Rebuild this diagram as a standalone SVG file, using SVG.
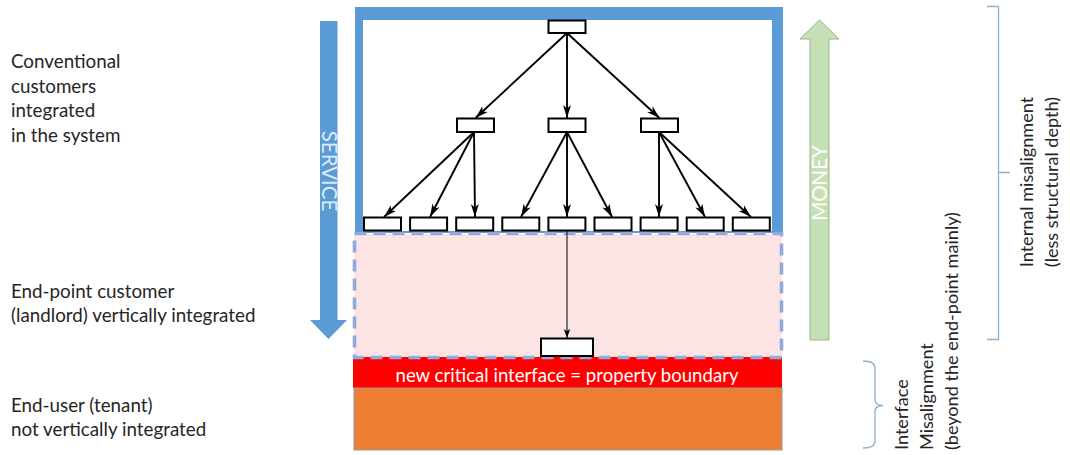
<svg xmlns="http://www.w3.org/2000/svg" width="1070" height="455" viewBox="0 0 1070 455">
  <style>
    .lbl { font-family: Lato, "Noto Sans", sans-serif; font-size: 18.8px; fill: #262626; }
    .side { font-family: Lato, "Noto Sans", sans-serif; font-size: 18.1px; fill: #262626; }
    .box { fill: #ffffff; stroke: #000000; stroke-width: 2; }
    .edge { stroke: #000000; stroke-width: 1.9; fill: none; marker-end: url(#head); }
    .thin { stroke: #000000; stroke-width: 1; fill: none; marker-end: url(#headSmall); }
    .brk { stroke: #8eb0cc; stroke-width: 1.3; fill: none; }
    .vtxt { font-family: Lato, "Noto Sans", sans-serif; font-size: 20.5px; }
  </style>
  <defs>
    <marker id="head" markerUnits="userSpaceOnUse" markerWidth="14" markerHeight="9" refX="13" refY="4.5" orient="auto">
      <path d="M0,0.5 L13,4.5 L0,8.5 L3.5,4.5 Z" fill="#000000"/>
    </marker>
    <marker id="headSmall" markerUnits="userSpaceOnUse" markerWidth="10" markerHeight="8" refX="9" refY="4" orient="auto">
      <path d="M0,0.8 L9,4 L0,7.2 L2.2,4 Z" fill="#000000"/>
    </marker>
  </defs>

  <rect width="1070" height="455" fill="#ffffff"/>

  <!-- left-hand descriptions -->
  <g id="label-conventional" class="lbl">
    <text x="11" y="68">Conventional</text>
    <text x="11" y="93">customers</text>
    <text x="11" y="117">integrated</text>
    <text x="11" y="142">in the system</text>
  </g>
  <g id="label-endpoint" class="lbl">
    <text x="11" y="298">End-point customer</text>
    <text x="11" y="322">(landlord) vertically integrated</text>
  </g>
  <g id="label-enduser" class="lbl">
    <text x="11" y="412">End-user  (tenant)</text>
    <text x="11" y="436">not vertically integrated</text>
  </g>

  <!-- SERVICE flow arrow (downwards) -->
  <g id="service-arrow">
    <polygon points="320,21 337.5,21 337.5,320 347,320 328.5,339 310,320 320,320" fill="#5b9bd5"/>
    <text class="vtxt" x="0" y="0" fill="#deebf7" text-anchor="middle" transform="translate(321.5,171) rotate(90)">SERVICE</text>
  </g>

  <!-- MONEY flow arrow (upwards) -->
  <g id="money-arrow">
    <polygon points="819.5,20 839,39 829,39 829,340 810,340 810,39 800,39" fill="#c5e0b4" stroke="#9cb38a" stroke-width="1"/>
    <text class="vtxt" x="0" y="0" fill="#ffffff" text-anchor="middle" transform="translate(826.5,183) rotate(-90)">MONEY</text>
  </g>

  <!-- system frame -->
  <g id="system-frame">
    <rect x="355" y="7" width="428" height="226" fill="#5b9bd5"/>
    <rect x="363" y="20" width="409" height="211" fill="#ffffff"/>
  </g>

  <!-- end-point customer zone -->
  <g id="endpoint-zone">
    <rect x="354" y="234" width="428" height="124" fill="#fde4e4"/>
  </g>

  <!-- property boundary band -->
  <g id="boundary-band">
    <rect x="353" y="357" width="429" height="31" fill="#ff0000"/>
    <text x="567" y="382" text-anchor="middle" font-family="Lato, 'Noto Sans', sans-serif" font-size="18.6" fill="#ffffff">new critical interface = property boundary</text>
  </g>

  <!-- end-user zone -->
  <g id="enduser-zone">
    <rect x="354" y="388" width="428" height="62" fill="#ed7d31" stroke="#9a9a9a" stroke-width="1"/>
  </g>

  <!-- dashed outline of the end-point zone -->
  <rect id="endpoint-outline" x="354.5" y="233.5" width="427" height="124" fill="none" stroke="#8faadc" stroke-width="3.6" stroke-dasharray="12 7"/>

  <!-- hierarchy connectors -->
  <g id="connectors">
    <line class="edge" x1="567" y1="33" x2="475.5" y2="118"/>
    <line class="edge" x1="567" y1="33" x2="567" y2="118"/>
    <line class="edge" x1="567" y1="33" x2="659.5" y2="118"/>
    <line class="edge" x1="474" y1="132" x2="384" y2="217"/>
    <line class="edge" x1="474" y1="132" x2="430" y2="217"/>
    <line class="edge" x1="474" y1="132" x2="475" y2="217"/>
    <line class="edge" x1="567" y1="132" x2="521" y2="217"/>
    <line class="edge" x1="567" y1="132" x2="567" y2="217"/>
    <line class="edge" x1="567" y1="132" x2="612" y2="217"/>
    <line class="edge" x1="659" y1="132" x2="659" y2="217"/>
    <line class="edge" x1="659" y1="132" x2="705" y2="217"/>
    <line class="edge" x1="659" y1="132" x2="751" y2="217"/>
    <line class="thin" x1="567" y1="231" x2="567" y2="338"/>
  </g>

  <!-- hierarchy nodes -->
  <g id="node-root"><rect class="box" x="548.5" y="20.5" width="37" height="12.5"/></g>
  <g id="node-mid-1"><rect class="box" x="457" y="118.5" width="37" height="13.5"/></g>
  <g id="node-mid-2"><rect class="box" x="548.5" y="118.5" width="37" height="13.5"/></g>
  <g id="node-mid-3"><rect class="box" x="641" y="118.5" width="37" height="13.5"/></g>
  <g id="node-leaf-1"><rect class="box" x="364" y="217.5" width="37" height="13"/></g>
  <g id="node-leaf-2"><rect class="box" x="410.1" y="217.5" width="37" height="13"/></g>
  <g id="node-leaf-3"><rect class="box" x="456.2" y="217.5" width="37" height="13"/></g>
  <g id="node-leaf-4"><rect class="box" x="502.3" y="217.5" width="37" height="13"/></g>
  <g id="node-leaf-5"><rect class="box" x="548.4" y="217.5" width="37" height="13"/></g>
  <g id="node-leaf-6"><rect class="box" x="594.5" y="217.5" width="37" height="13"/></g>
  <g id="node-leaf-7"><rect class="box" x="640.6" y="217.5" width="37" height="13"/></g>
  <g id="node-leaf-8"><rect class="box" x="686.7" y="217.5" width="37" height="13"/></g>
  <g id="node-leaf-9"><rect class="box" x="732.8" y="217.5" width="37" height="13"/></g>
  <g id="node-endpoint"><rect class="box" x="541" y="338.5" width="52" height="17.5"/></g>

  <!-- internal misalignment bracket -->
  <g id="bracket-internal">
    <path class="brk" d="M987,6.5 H998.5 V339.5 H987 M998.5,172.5 H1010"/>
    <g class="side" text-anchor="middle">
      <text transform="translate(1033,182) rotate(-90)">Internal misalignment</text>
      <text transform="translate(1058,182) rotate(-90)">(less structural depth)</text>
    </g>
  </g>

  <!-- interface misalignment brace -->
  <g id="bracket-interface">
    <path class="brk" d="M863,361 Q875,361 875,368 V399 Q875,405.5 883,405.5 Q875,405.5 875,412 V441 Q875,448 863,448"/>
    <g class="side">
      <text transform="translate(908,450) rotate(-90)">Interface</text>
      <text transform="translate(933,450) rotate(-90)">Misalignment</text>
      <text transform="translate(958,450) rotate(-90)">(beyond the end-point mainly)</text>
    </g>
  </g>
</svg>
